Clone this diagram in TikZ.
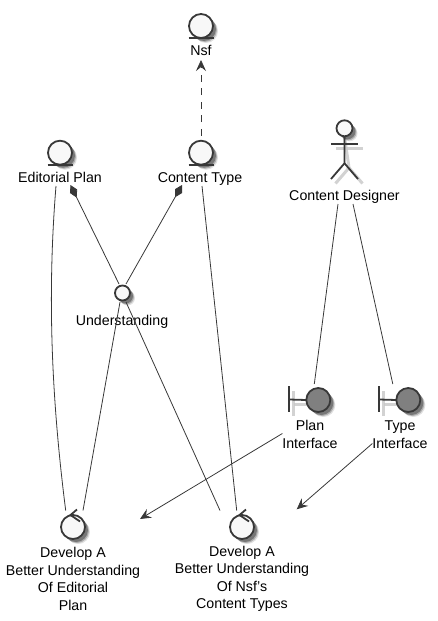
\documentclass[tikz,border=0pt]{standalone}
\usepackage{fontspec}
\setmainfont{Liberation Sans}
\usepackage{tikz}
\usetikzlibrary{calc,arrows.meta,shadows}

\definecolor{umlline}{HTML}{383838}
\definecolor{umlfill}{HTML}{F8F8F8}
\definecolor{umlgray}{HTML}{808080}

\tikzset{
  softshadow/.style={
    general shadow={shadow xshift=5pt,shadow yshift=-5pt,fill=black,opacity=.12},
    general shadow={shadow xshift=4pt,shadow yshift=-4pt,fill=black,opacity=.22},
    general shadow={shadow xshift=3pt,shadow yshift=-3pt,fill=black,opacity=.32}},
  umlcircle/.style={circle,draw=umlline,line width=1.8pt,fill=umlfill,inner sep=0pt,outer sep=0pt,
    minimum size=24pt,softshadow},
  boundarycircle/.style={umlcircle,fill=umlgray},
  smallcircle/.style={umlcircle,minimum size=15pt},
  umlmark/.style={draw=umlline,line width=1.8pt},
  markshadow/.style={draw=black!22,line width=3pt,opacity=.8},
  umllabel/.style={inner sep=0pt,outer sep=0pt,align=center,text=black,
    font=\fontsize{14.2}{17.4}\selectfont},
  oneline/.style={umllabel,text height=10pt,text depth=3pt},
  umledge/.style={draw=umlline,line width=.8pt},
  openarrow/.style={umledge,-{Stealth[length=11pt,width=10pt,inset=4pt]}},
  depend/.style={openarrow,dash pattern=on 7pt off 6.5pt},
  compose/.style={umledge,{Diamond[length=14pt,width=8pt,fill=umlline]}-}
}

\begin{document}
\begin{tikzpicture}[x=1pt,y=-1pt]
  \useasboundingbox (0,0) rectangle (438,621);

  % entities
  \node[umlcircle] (nsf) at (201,26) {};
  \node[oneline] (nsflabel) at (201,51.5) {Nsf};
  \node[umlcircle] (ctype) at (201,152.7) {};
  \node[oneline] (ctypelabel) at (200,178.5) {Content Type};
  \node[umlcircle] (eplan) at (60,152.7) {};
  \node[oneline] (eplanlabel) at (60,178.5) {Editorial Plan};

  \foreach \ent in {nsf,ctype,eplan}
    \draw[umlmark] ($(\ent.south)+(-12.5,0)$) -- ($(\ent.south)+(12.5,0)$);

  % interface
  \node[smallcircle] (understand) at (122.5,293) {};
  \node[oneline] (understandlabel) at (122,321.5) {Understanding};

  % actor: shadow first
  \coordinate (neck) at (344.5,136.5);
  \begin{scope}[shift={(4.5,4.5)}]
    \draw[markshadow] (331,144) -- (358,144);
    \draw[markshadow] (neck) -- (344.5,163.3) -- (331,179);
    \draw[markshadow] (344.5,163.3) -- (358,179);
  \end{scope}
  \node[umlcircle,minimum size=16pt] (designer) at (344.5,128.3) {};
  \draw[umlmark] (designer.south) -- (344.5,163.3) -- (331,179);
  \draw[umlmark] (344.5,163.3) -- (358,179);
  \draw[umlmark] (331,144) -- (358,144);
  \node[oneline] (designerlabel) at (344.5,196.5) {Content Designer};

  % boundaries
  \foreach \nme/\cx in {planif/318.3,typeif/408.3}{
    \draw[markshadow] (\cx-24,404) -- (\cx-12,404);
    \draw[markshadow] (\cx-24.5,391) -- (\cx-24.5,416);
    \node[boundarycircle] (\nme) at (\cx,400) {};
    \draw[umlmark] (\cx-29,386) -- (\cx-29,412);
    \draw[umlmark] (\cx-29,399.5) -- (\nme.west);
  }
  \node[umllabel] (planlabel) at (310,434.5) {Plan\\Interface};
  \node[umllabel] (typelabel) at (400,434.5) {Type\\Interface};

  % controls
  \node[umlcircle] (devone) at (73,527) {};
  \node[umlcircle] (devtwo) at (242,527) {};
  \foreach \ctl in {devone,devtwo}
    \draw[umlmark] ($(\ctl)+(4,-17.5)$) -- ($(\ctl)+(-2.5,-12)$) -- ($(\ctl)+(7,-5.5)$);
  \node[umllabel] (devonelabel) at (73,579) {Develop A\\Better Understanding\\Of Editorial\\Plan};
  \node[umllabel] (devtwolabel) at (242,579) {Develop A\\Better Understanding\\Of Nsf's\\Content Types};

  % connectors
  \draw[depend] ($(ctype.north)+(0,-5)$) -- ($(nsflabel.south)+(0,2)$);
  \draw[umledge] ($(eplanlabel.south)+(-4,1)$) .. controls +(-9,110) and +(-14,-110) .. ($(devone.north)+(-7.3,-4.5)$);
  \draw[umledge] ($(ctypelabel.south)+(2,1)$) -- ($(devtwo.north)+(-5.3,-4.5)$);
  \draw[compose] ($(eplanlabel.south)+(10.5,0)$) -- ($(understand.north)+(-3.5,-1.5)$);
  \draw[compose] ($(ctypelabel.south)+(-18,0)$) -- ($(understand.north)+(3.5,-1.5)$);
  \draw[umledge] ($(understand.south)+(-2.5,1.5)$) -- ($(devone.north)+(10,-4.5)$);
  \draw[umledge] ($(understand.south)+(3.5,1.5)$) -- ($(devtwo.north)+(-22,-4.5)$);
  \draw[umledge] ($(designerlabel.south)+(-6.5,1)$) -- ($(planif.north)+(-4,-4)$);
  \draw[umledge] ($(designerlabel.south)+(8.5,1)$) -- ($(typeif.north)+(-15.5,-4)$);
  \draw[openarrow] ([yshift=1pt]planlabel.west) -- ($(devone)+(67,-8)$);
  \draw[openarrow] ($(typelabel.west)+(0,9)$) -- ($(devtwo)+(54.7,-17.7)$);
\end{tikzpicture}
\end{document}
